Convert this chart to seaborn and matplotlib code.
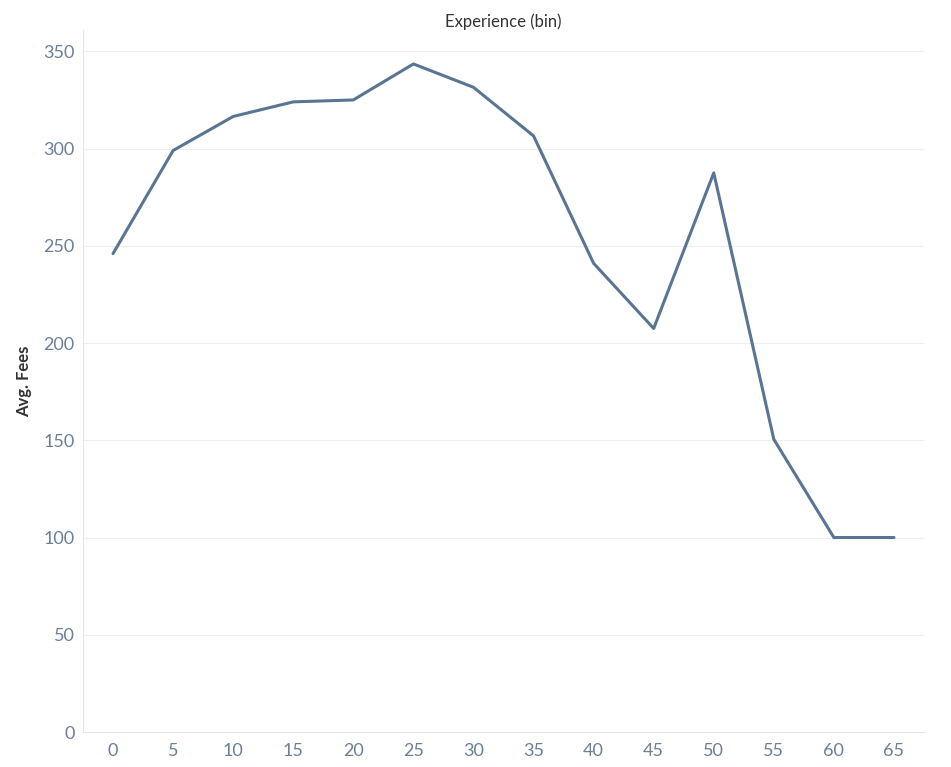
import pandas as pd
import seaborn as sns
import matplotlib.pyplot as plt

experience_bin = [0, 5, 10, 15, 20, 25, 30, 35, 40, 45, 50, 55, 60, 65]
avg_fees = [246, 299, 316.5, 324, 325, 343.5, 331.5, 306.5, 241, 207.5, 287.5, 150.5, 100, 100]

df = pd.DataFrame({"Experience (bin)": experience_bin, "Avg. Fees": avg_fees})

sns.set_theme(style="white")
plt.rcParams['font.family'] = ['Lato', 'DejaVu Sans']

fig = plt.figure(figsize=(9.51, 7.67), dpi=100)
ax = fig.add_axes([0.0873, 0.0456, 0.8843, 0.9154])

sns.lineplot(data=df, x="Experience (bin)", y="Avg. Fees", color="#5a7594", linewidth=2.2, ax=ax)

ax.set_xlim(-2.5, 67.5)
ax.set_ylim(0, 361)
ax.set_xticks(experience_bin)
ax.set_xticks([v + 2.5 for v in experience_bin[:-1]], minor=True)
ax.set_yticks([0, 50, 100, 150, 200, 250, 300, 350])
ax.grid(axis="y", color="#efefef", linewidth=0.8)
ax.set_axisbelow(True)

ax.tick_params(axis="both", which="major", labelsize=13, labelcolor="#6b7f99", length=0)
ax.tick_params(axis="x", which="major", pad=8)
ax.tick_params(axis="y", which="major", pad=6)
ax.tick_params(axis="x", which="minor", length=3, color="#e6e6e6", width=0.8)

for side in ["top", "right"]:
    ax.spines[side].set_visible(False)
for side in ["left", "bottom"]:
    ax.spines[side].set_color("#e6e6e6")
    ax.spines[side].set_linewidth(0.8)

ax.set_xlabel("")
ax.set_ylabel("Avg. Fees", fontsize=12, color="#333333", fontweight="bold", labelpad=8)
ax.set_title("Experience (bin)", fontsize=12, color="#333333", pad=2)

fig.savefig("out.png", dpi=100)
